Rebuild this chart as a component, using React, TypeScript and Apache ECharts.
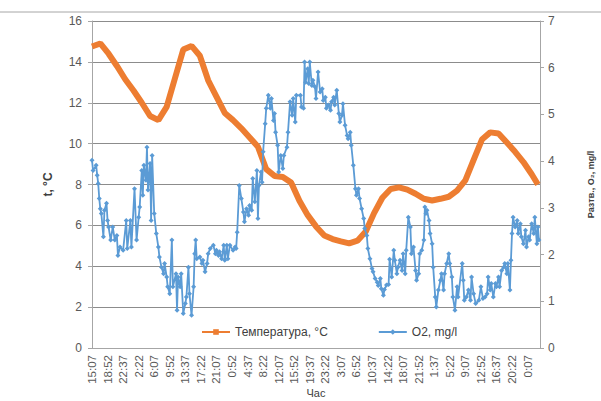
import React, { useEffect, useRef } from 'react';
import * as echarts from 'echarts';

const tickLabels = [
  '15:07', '18:52', '22:37', '2:22', '6:07', '9:52', '13:37', '17:22', '21:07', '0:52',
  '4:37', '8:22', '12:07', '15:52', '19:37', '23:22', '3:07', '6:52', '10:37', '14:22',
  '18:07', '21:52', '1:37', '5:22', '9:07', '12:52', '16:37', '20:22', '0:07',
];

// time step index (15-minute steps from 15:07)
const tempSteps = [
  0, 8, 16, 24, 32, 40, 48, 56, 64, 72, 80, 88, 96, 104, 112, 120, 128, 136, 144, 152,
  160, 168, 176, 184, 192, 200, 208, 216, 224, 232, 240, 248, 256, 264, 272, 280, 288, 296,
  304, 312, 320, 328, 336, 344, 352, 360, 368, 376, 384, 392, 400, 408, 416, 424, 430,
];
const tempValues = [
  14.75, 14.9, 14.4, 13.8, 13.15, 12.6, 12.0, 11.35, 11.15, 11.8, 13.2, 14.6, 14.78, 14.3,
  13.1, 12.3, 11.5, 11.15, 10.75, 10.3, 9.85, 8.75, 8.42, 8.37, 8.1, 7.2, 6.5, 5.95, 5.5,
  5.33, 5.22, 5.12, 5.25, 5.7, 6.6, 7.35, 7.78, 7.86, 7.75, 7.55, 7.3, 7.22, 7.3, 7.4, 7.7,
  8.2, 9.2, 10.2, 10.55, 10.5, 10.05, 9.6, 9.1, 8.5, 8.0,
];

const o2Steps = [
  0, 1, 4, 5, 6, 7, 8, 9, 11, 12, 14, 15, 16, 18, 20, 22, 24, 25, 27, 30,
  33, 34, 37, 38, 41, 43, 45, 46, 48, 49, 50, 52, 53, 54, 56, 57, 58, 60, 62, 64,
  65, 67, 69, 70, 72, 73, 75, 77, 78, 81, 82, 83, 85, 86, 88, 90, 91, 93, 94, 96,
  98, 99, 100, 101, 104, 106, 107, 109, 111, 112, 114, 117, 119, 120, 122, 123, 125, 127, 128, 130,
  131, 133, 136, 138, 139, 140, 142, 144, 146, 147, 149, 151, 152, 154, 155, 157, 159, 160, 161, 163,
  164, 165, 167, 168, 170, 172, 173, 175, 176, 177, 179, 180, 182, 184, 185, 188, 189, 191, 193, 194,
  196, 197, 201, 202, 204, 205, 206, 208, 209, 210, 212, 213, 215, 216, 218, 220, 222, 223, 225, 226,
  228, 230, 231, 233, 234, 236, 238, 239, 241, 242, 244, 246, 247, 249, 250, 252, 254, 255, 257, 258,
  260, 262, 263, 265, 266, 268, 270, 271, 273, 275, 276, 278, 279, 281, 282, 284, 286, 287, 289, 291,
  292, 294, 295, 297, 299, 300, 302, 303, 305, 307, 308, 310, 312, 313, 315, 316, 318, 320, 321, 322,
  323, 325, 326, 328, 329, 331, 332, 334, 336, 337, 339, 340, 342, 344, 345, 347, 348, 350, 352, 353,
  357, 358, 359, 361, 363, 365, 366, 368, 370, 373, 375, 377, 379, 381, 382, 384, 385, 387, 389, 390,
  392, 393, 395, 397, 398, 400, 401, 403, 404, 405, 406, 408, 410, 411, 413, 414, 416, 418, 419, 421,
  422, 424, 426, 427, 429, 430, 431,
];
const o2Values = [
  4.02, 3.8, 3.91, 3.7, 3.52, 3.2, 2.98, 2.88, 2.38, 2.95, 3.1, 2.73, 2.59, 2.31, 2.59, 2.31, 2.41, 1.98, 2.16, 2.09,
  2.73, 2.13, 2.73, 2.16, 3.41, 2.31, 2.8, 3.02, 3.8, 3.27, 3.91, 3.59, 4.3, 3.38, 3.95, 2.73, 4.12, 2.88, 2.45, 2.16,
  1.95, 1.73, 1.59, 1.81, 1.52, 1.31, 1.16, 2.31, 1.31, 1.59, 0.81, 1.52, 1.31, 1.59, 0.74, 0.95, 1.09, 1.73, 1.16, 0.7,
  1.31, 2.02, 2.31, 1.91, 1.95, 1.81, 1.88, 1.63, 1.81, 2.02, 2.13, 2.2, 2.02, 2.09, 1.98, 2.06, 1.91, 2.2, 1.88, 2.2,
  1.91, 2.2, 2.09, 2.16, 2.13, 2.48, 3.48, 3.2, 2.91, 2.7, 2.98, 2.84, 3.05, 2.95, 3.63, 3.13, 3.8, 2.77, 3.48, 3.77,
  3.55, 4.2, 4.8, 5.13, 5.41, 5.13, 5.34, 4.87, 5.02, 4.62, 4.34, 3.77, 4.12, 3.84, 4.12, 4.3, 4.62, 5.27, 4.98, 5.34,
  4.84, 5.41, 5.41, 5.16, 5.13, 6.12, 5.69, 5.98, 5.66, 6.12, 5.62, 5.73, 5.59, 5.34, 5.91, 5.48, 5.55, 5.3, 5.37, 5.13,
  5.2, 5.09, 5.27, 5.37, 5.2, 5.52, 5.02, 4.84, 4.98, 5.23, 4.77, 4.55, 4.48, 4.62, 4.34, 3.91, 3.41, 3.27, 3.41, 3.2,
  2.98, 2.77, 2.56, 2.41, 2.13, 1.91, 1.7, 1.63, 1.49, 1.41, 1.34, 1.49, 1.27, 1.13, 1.25, 1.35, 1.36, 1.9, 1.52, 2.09,
  1.88, 1.59, 1.73, 1.88, 1.66, 2.02, 1.59, 2.09, 2.8, 2.59, 2.02, 2.16, 1.66, 1.45, 1.59, 2.02, 2.09, 2.31, 3.02, 2.88,
  2.95, 2.73, 2.45, 2.23, 1.73, 1.09, 0.88, 1.24, 1.45, 1.59, 1.24, 1.59, 1.81, 2.02, 1.81, 1.52, 1.09, 0.81, 1.31, 1.09,
  1.81, 1.45, 1.02, 1.09, 1.24, 1.02, 1.52, 1.16, 0.95, 1.02, 1.31, 1.06, 1.09, 1.16, 1.52, 1.24, 1.38, 1.09, 1.38, 1.31,
  1.52, 1.31, 1.66, 1.73, 1.81, 1.59, 1.81, 1.24, 1.88, 2.45, 2.8, 2.59, 2.73, 2.45, 2.66, 2.38, 2.23, 2.52, 2.16, 2.38,
  2.31, 2.66, 2.45, 2.8, 2.23, 2.59, 2.31,
];

const FONT = '"Liberation Sans", Arial, sans-serif';

export default function App() {
  const ref = useRef<HTMLDivElement>(null);
  useEffect(() => {
    const chart = echarts.init(ref.current!, null, { renderer: 'svg' });
    const tempData = tempSteps.map((s, i) => [s, tempValues[i]]);
    const o2Data = o2Steps.map((s, i) => [s, o2Values[i]]);
    chart.setOption({
      animation: false,
      backgroundColor: '#ffffff',
      textStyle: { fontFamily: FONT },
      grid: { left: 92, right: 61, top: 21, bottom: 53, containLabel: false, outerBoundsMode: 'none' },
      graphic: [
        {
          type: 'line',
          shape: { x1: 0, y1: 12, x2: 601, y2: 12 },
          style: { stroke: '#a6a6a6', lineWidth: 1 },
        },
      ],
      legend: {
        left: 196,
        top: 321,
        itemWidth: 28,
        itemHeight: 7,
        itemGap: 50,
        textStyle: { fontSize: 12, color: '#404040', fontFamily: FONT },
        data: ['Температура, °C', 'O2, mg/l'],
      },
      xAxis: {
        type: 'value',
        min: 0,
        max: 432,
        interval: 15,
        name: 'Час',
        nameLocation: 'middle',
        nameGap: 39,
        nameMoveOverlap: false,
        nameTextStyle: { fontSize: 11, color: '#404040', fontFamily: FONT },
        axisLine: { show: true, lineStyle: { color: '#a6a6a6' } },
        axisTick: { show: false },
        splitLine: { show: false },
        axisLabel: {
          rotate: 90,
          fontSize: 11.5,
          color: '#595959',
          margin: 7,
          showMaxLabel: false,
          fontFamily: FONT,
          formatter: (v: number) => {
            const k = Math.round(v / 15);
            return Math.abs(v - k * 15) < 0.01 && k < tickLabels.length ? tickLabels[k] : '';
          },
        },
      },
      yAxis: [
        {
          type: 'value',
          min: 0,
          max: 16,
          interval: 2,
          position: 'left',
          name: 't, °C',
          nameLocation: 'middle',
          nameGap: 38,
          nameRotate: 90,
          nameMoveOverlap: false,
          nameTextStyle: { fontSize: 12, fontWeight: 'bold', color: '#404040', fontFamily: FONT },
          axisLine: { show: true, lineStyle: { color: '#a6a6a6' } },
          axisTick: { show: true, length: 4, lineStyle: { color: '#a6a6a6' } },
          axisLabel: { fontSize: 12, color: '#595959', margin: 10, fontFamily: FONT },
          splitLine: { show: true, lineStyle: { color: '#8c8c8c', width: 1 } },
        },
        {
          type: 'value',
          min: 0,
          max: 7,
          interval: 1,
          position: 'right',
          name: 'Разтв., O₂, mg/l',
          nameLocation: 'middle',
          nameGap: 46,
          nameRotate: 90,
          nameMoveOverlap: false,
          nameTextStyle: { fontSize: 9, fontWeight: 'bold', color: '#404040', fontFamily: FONT },
          axisLine: { show: true, lineStyle: { color: '#a6a6a6' } },
          axisTick: { show: true, length: 4, lineStyle: { color: '#a6a6a6' } },
          axisLabel: { fontSize: 12, color: '#595959', margin: 8, fontFamily: FONT },
          splitLine: { show: false },
        },
      ],
      series: [
        {
          name: 'Температура, °C',
          type: 'line',
          yAxisIndex: 0,
          data: tempData,
          symbol: 'rect',
          symbolSize: 6,
          showSymbol: false,
          lineStyle: { color: '#ED7D31', width: 6 },
          itemStyle: { color: '#ED7D31' },
          z: 2,
        },
        {
          name: 'O2, mg/l',
          type: 'line',
          yAxisIndex: 1,
          data: o2Data,
          symbol: 'diamond',
          symbolSize: 5,
          lineStyle: { color: '#5B9BD5', width: 1.8 },
          itemStyle: { color: '#5B9BD5' },
          z: 3,
        },
      ],
    });
    return () => chart.dispose();
  }, []);
  return (
    <div
      ref={ref}
      style={{ position: 'fixed', left: 0, top: 0, width: 601, height: 401 }}
    />
  );
}
